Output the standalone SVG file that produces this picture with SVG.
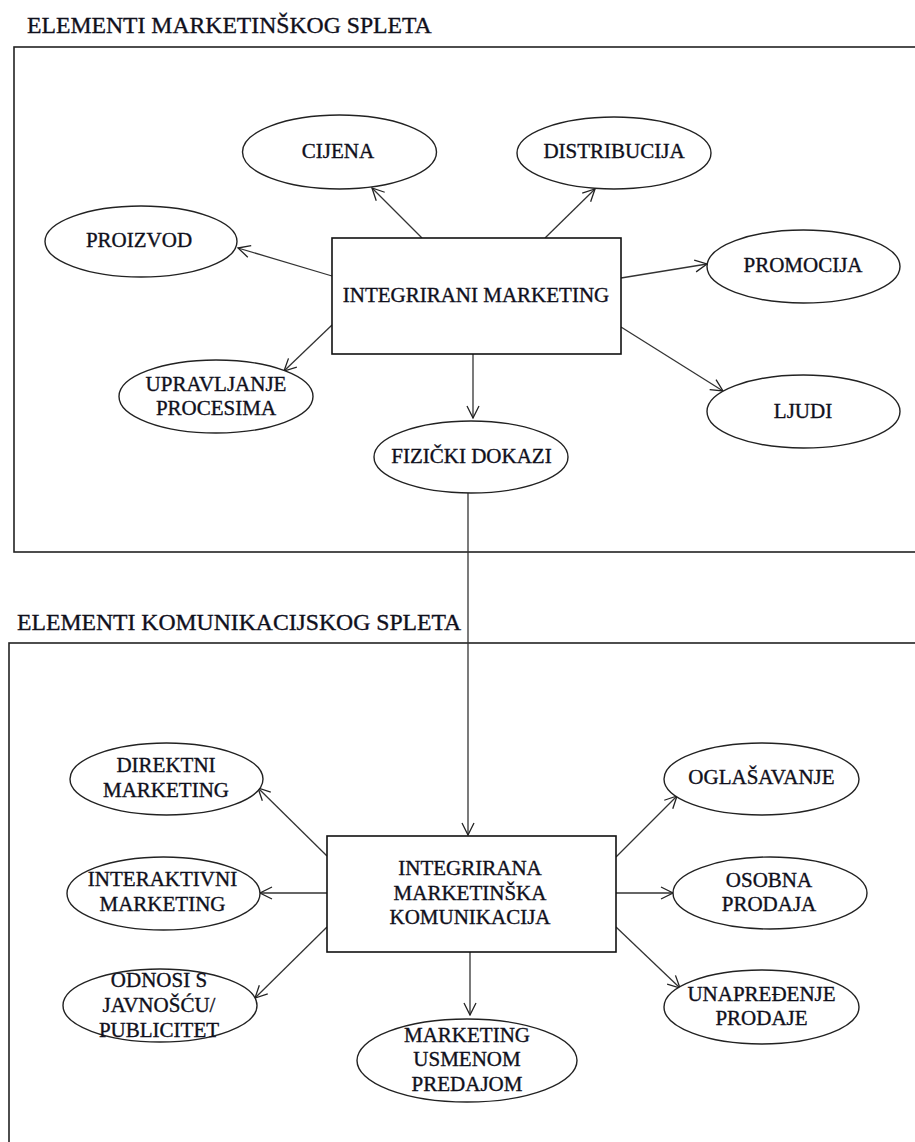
<svg xmlns="http://www.w3.org/2000/svg" width="915" height="1142" viewBox="0 0 915 1142">
<style>
text{fill:#10101c;stroke:#10101c;stroke-width:0.35;text-anchor:middle;font-size:21px}
.title{font-size:23.7px;text-anchor:start}
.frame{fill:none;stroke:#222;stroke-width:1.6}
.box{fill:#fff;stroke:#111;stroke-width:1.6}
.ell{fill:#fff;stroke:#222;stroke-width:1.4}
.conn line{stroke:#333;stroke-width:1.3;marker-end:url(#arr)}
</style>
<defs>
<marker id="arr" markerUnits="userSpaceOnUse" markerWidth="14" markerHeight="14" viewBox="0 0 14 14" refX="13" refY="7" orient="auto">
<path d="M1,1 L13,7 L1,13" fill="none" stroke="#222" stroke-width="1.3"/>
</marker>
</defs>
<g font-family="Liberation Serif, serif">
<text class="title" x="27" y="33">ELEMENTI MARKETINŠKOG SPLETA</text>
<rect class="frame" x="14" y="47" width="910" height="505"/>
<text class="title" x="17" y="630">ELEMENTI KOMUNIKACIJSKOG SPLETA</text>
<rect class="frame" x="9" y="643" width="915" height="520"/>
<g class="conn" id="connectors">
<line x1="422" y1="238" x2="372" y2="188"/>
<line x1="332" y1="276" x2="238" y2="248"/>
<line x1="545" y1="238" x2="595" y2="189"/>
<line x1="621" y1="278" x2="707" y2="264"/>
<line x1="332" y1="325" x2="284" y2="371"/>
<line x1="473" y1="354" x2="473" y2="418"/>
<line x1="621" y1="327" x2="723" y2="391"/>
<line x1="468" y1="493" x2="468" y2="835"/>
<line x1="327" y1="856" x2="258" y2="788"/>
<line x1="327" y1="893" x2="260" y2="893"/>
<line x1="327" y1="927" x2="255" y2="998"/>
<line x1="470" y1="952" x2="470" y2="1015"/>
<line x1="616" y1="857" x2="677" y2="796"/>
<line x1="616" y1="893" x2="673" y2="893"/>
<line x1="616" y1="927" x2="680" y2="988"/>
</g>
<g id="integrirani-marketing"><rect class="box" x="332" y="238" width="289" height="116"/><text x="476" y="302">INTEGRIRANI MARKETING</text></g>
<g id="cijena"><ellipse class="ell" cx="339.5" cy="152" rx="97" ry="37"/><text x="338" y="158">CIJENA</text></g>
<g id="proizvod"><ellipse class="ell" cx="141" cy="241.5" rx="96" ry="35.5"/><text x="139" y="247">PROIZVOD</text></g>
<g id="distribucija"><ellipse class="ell" cx="614" cy="153" rx="97" ry="36"/><text x="614" y="158">DISTRIBUCIJA</text></g>
<g id="promocija"><ellipse class="ell" cx="803.5" cy="266.5" rx="96.5" ry="36.5"/><text x="803" y="272">PROMOCIJA</text></g>
<g id="upravljanje-procesima"><ellipse class="ell" cx="216" cy="396.5" rx="97" ry="36.5"/><text x="216" y="391">UPRAVLJANJE</text><text x="216" y="415">PROCESIMA</text></g>
<g id="fizicki-dokazi"><ellipse class="ell" cx="471" cy="457" rx="97" ry="36"/><text x="471.5" y="463">FIZIČKI DOKAZI</text></g>
<g id="ljudi"><ellipse class="ell" cx="803.5" cy="411.5" rx="96.5" ry="36.5"/><text x="803" y="418">LJUDI</text></g>
<g id="imk"><rect class="box" x="327" y="836" width="289" height="116"/><text x="470" y="875">INTEGRIRANA</text><text x="470" y="900">MARKETINŠKA</text><text x="470" y="924">KOMUNIKACIJA</text></g>
<g id="direktni-marketing"><ellipse class="ell" cx="166.5" cy="779" rx="96.5" ry="36"/><text x="166" y="772">DIREKTNI</text><text x="166" y="797">MARKETING</text></g>
<g id="interaktivni-marketing"><ellipse class="ell" cx="163.5" cy="893.5" rx="96.5" ry="36.5"/><text x="162.5" y="886">INTERAKTIVNI</text><text x="162.5" y="911">MARKETING</text></g>
<g id="odnosi-s-javnoscu"><ellipse class="ell" cx="160" cy="1005.5" rx="97" ry="36.5"/><text x="159" y="987">ODNOSI S</text><text x="159" y="1012">JAVNOŠĆU/</text><text x="159" y="1037">PUBLICITET</text></g>
<g id="marketing-usmenom-predajom"><ellipse class="ell" cx="467" cy="1060.5" rx="110" ry="41.5"/><text x="467" y="1042">MARKETING</text><text x="467" y="1066">USMENOM</text><text x="467" y="1091">PREDAJOM</text></g>
<g id="oglasavanje"><ellipse class="ell" cx="761.5" cy="779" rx="97.5" ry="36"/><text x="761.5" y="784">OGLAŠAVANJE</text></g>
<g id="osobna-prodaja"><ellipse class="ell" cx="770" cy="893" rx="97" ry="36"/><text x="769" y="887">OSOBNA</text><text x="769" y="911">PRODAJA</text></g>
<g id="unapredenje-prodaje"><ellipse class="ell" cx="761.5" cy="1007" rx="97.5" ry="37"/><text x="761.5" y="1001">UNAPREĐENJE</text><text x="761.5" y="1025">PRODAJE</text></g>
</g>
</svg>
